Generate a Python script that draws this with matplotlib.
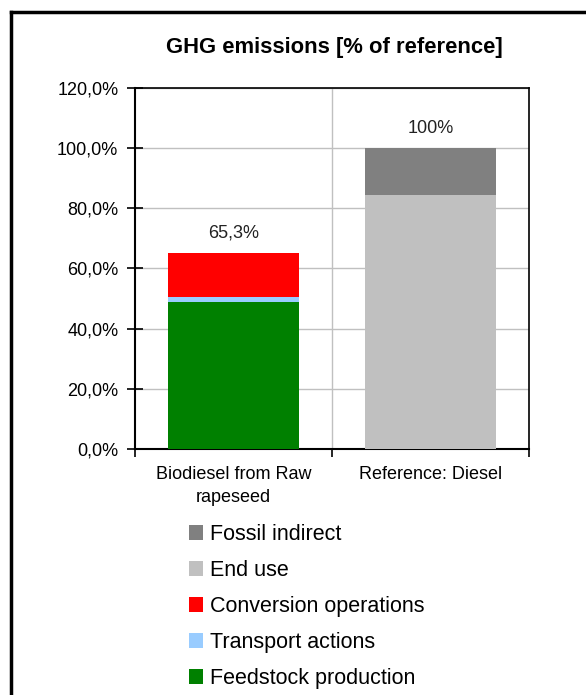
import numpy as np
import matplotlib
matplotlib.use('Agg')
import matplotlib.pyplot as plt
from matplotlib.lines import Line2D

plt.rcParams['font.family'] = ['Liberation Sans', 'DejaVu Sans']

# Data (% of reference)
categories = ['Biodiesel from Raw\nrapeseed', 'Reference: Diesel']
series_names = ['Feedstock production', 'Transport actions', 'Conversion operations',
                'End use', 'Fossil indirect']
feedstock = [48.9, 0.0]
transport = [1.6, 0.0]
conversion = [14.8, 0.0]
end_use = [0.0, 84.4]
fossil_indirect = [0.0, 15.6]
total_labels = ['65,3%', '100%']
colors = ['#008000', '#99CCFF', '#FF0000', '#C0C0C0', '#808080']

series = [feedstock, transport, conversion, end_use, fossil_indirect]

fig = plt.figure(figsize=(5.86, 6.95), dpi=100)
ax = fig.add_axes([0.2304, 0.354, 0.6723, 0.5194])

x = np.arange(len(categories))
bottom = np.zeros(len(categories))
handles = []
for vals, name, col in zip(series, series_names, colors):
    b = ax.bar(x, vals, width=0.67, bottom=bottom, color=col, label=name, zorder=3)
    handles.append(b)
    bottom = bottom + np.array(vals)

# totals above bars
for xi, tot, lab in zip(x, bottom, total_labels):
    ax.annotate(lab, (xi, tot), xytext=(0, 14), textcoords='offset points',
                ha='center', va='center', fontsize=13, color='#222222')

ax.set_xlim(-0.5, 1.5)
ax.set_ylim(0, 120)
ax.set_yticks(np.arange(0, 121, 20))
ax.set_yticklabels([f'{v:.1f}%'.replace('.', ',') for v in np.arange(0, 121, 20)])
ax.set_xticks([-0.5, 0.5, 1.5])
ax.set_xticklabels([])
ax.set_xticks(x, minor=True)
ax.set_xticklabels(categories, minor=True, fontsize=13, linespacing=1.5)
ax.tick_params(axis='x', which='minor', length=0, pad=12)
ax.tick_params(axis='x', which='major', direction='out', length=6, width=1.2)
ax.tick_params(axis='y', direction='inout', length=12, width=1.2, labelsize=13, pad=6)

ax.grid(True, axis='y', color='#C0C0C0', linewidth=1, zorder=0)
ax.axvline(0.5, color='#C0C0C0', linewidth=1, zorder=0)
for s in ax.spines.values():
    s.set_color('black')
    s.set_linewidth(1.2)
ax.spines['left'].set_linewidth(1.5)
ax.spines['bottom'].set_linewidth(1.5)

fig.text(0.570, 0.932, 'GHG emissions [% of reference]', ha='center', va='center',
         fontsize=15.8, fontweight='bold')

leg = fig.legend(handles[::-1], series_names[::-1], loc='upper left',
                 bbox_to_anchor=(0.322, 0.246), frameon=False, fontsize=15.5,
                 handlelength=0.68, handleheight=0.68, handletextpad=0.3,
                 labelspacing=0.7, borderpad=0, borderaxespad=0)

# outer frame (left and top edges visible)
fig.add_artist(Line2D([11/586, 11/586], [0, 1 - 12/695], color='black', linewidth=2.5,
                      transform=fig.transFigure))
fig.add_artist(Line2D([11/586, 1], [1 - 12/695, 1 - 12/695], color='black', linewidth=2.5,
                      transform=fig.transFigure))

fig.savefig('out.png', dpi=100)
